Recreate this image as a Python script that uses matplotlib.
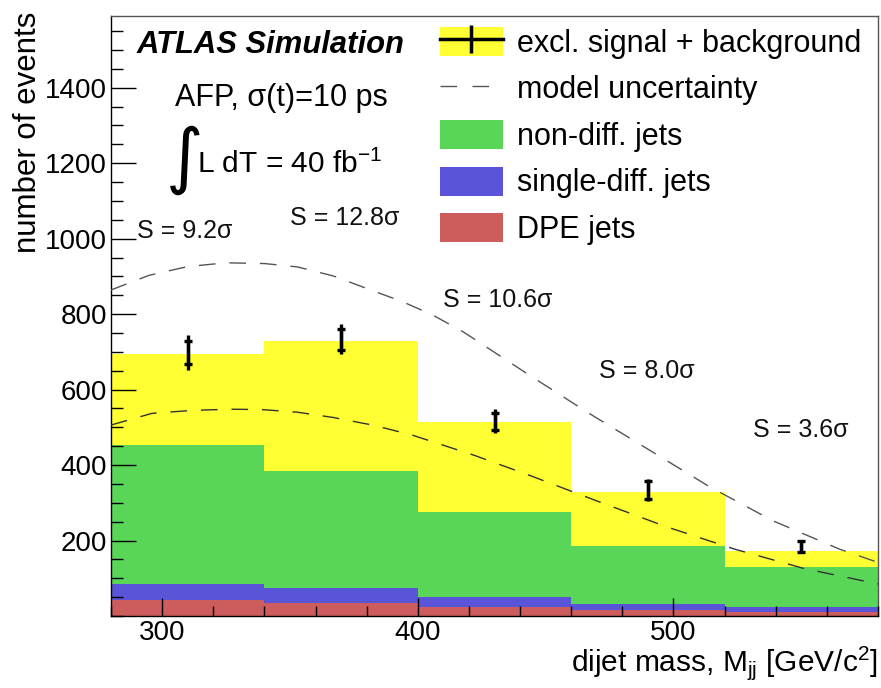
import numpy as np
import matplotlib
matplotlib.use("Agg")
import matplotlib.pyplot as plt
from matplotlib.patches import Patch
from matplotlib.lines import Line2D
from matplotlib.ticker import MultipleLocator, FixedLocator

plt.rcParams['font.family'] = ['Liberation Sans', 'DejaVu Sans']
plt.rcParams['mathtext.fontset'] = 'custom'
plt.rcParams['mathtext.rm'] = 'Liberation Sans'
plt.rcParams['mathtext.it'] = 'Liberation Sans:italic'
plt.rcParams['mathtext.bf'] = 'Liberation Sans:bold'

# ---------------- data ----------------
bin_edges = np.array([280, 340, 400, 460, 520, 580])
dpe_jets = np.array([42, 35, 23, 16, 10])
single_diff_jets = np.array([43, 38, 28, 16, 13])
non_diff_jets = np.array([369, 312, 225, 153, 106])
excl_signal = np.array([241, 343, 237, 143, 43])

data_values = np.array([699, 733, 516, 334, 185])
data_err_stat = np.array([30, 28, 23, 23, 15])
data_err_line = np.array([46, 40, 32, 28, 15])

upper_unc_x = [280, 295, 310, 325, 340, 353, 367, 380, 394, 406, 418, 443, 467, 491, 514, 539, 565, 580]
upper_unc_y = [864, 903, 926, 936, 934, 925, 901, 868, 833, 797, 752, 641, 537, 438, 343, 252, 177, 142]
lower_unc_x = [280, 296, 312, 327, 339, 353, 367, 383, 398, 422, 444, 470, 497, 524, 551, 580]
lower_unc_y = [506, 537, 545, 548, 547, 540, 526, 505, 479, 426, 372, 305, 237, 177, 126, 85]

significance_labels = ["S = 9.2σ", "S = 12.8σ", "S = 10.6σ", "S = 8.0σ", "S = 3.6σ"]
significance_x = [290.2, 350.1, 409.7, 470.7, 531.0]
significance_y = [1001, 1036, 820, 630, 475]

legend_labels = ["excl. signal + background", "model uncertainty",
                 "non-diff. jets", "single-diff. jets", "DPE jets"]

c_yellow = '#ffff33'
c_green = '#59d657'
c_blue = '#5a54d8'
c_red = '#cd5c5c'

W, H = 881, 688
fig = plt.figure(figsize=(W / 100, H / 100), dpi=100)
ax = fig.add_axes([111 / W, 1 - 616 / H, (878 - 111) / W, (616 - 16) / H])

# stacked histograms (drawn from total down)
layers = [dpe_jets, single_diff_jets, non_diff_jets, excl_signal]
colors = [c_red, c_blue, c_green, c_yellow]
cum = np.cumsum(np.vstack(layers), axis=0)
for i in range(len(layers) - 1, -1, -1):
    ax.stairs(cum[i], bin_edges, fill=True, color=colors[i], lw=0, zorder=1)

# model uncertainty curves
ax.plot(upper_unc_x, upper_unc_y, color='#555555', lw=1.0, dashes=(12, 10), zorder=3)
ax.plot(lower_unc_x, lower_unc_y, color='#333333', lw=1.0, dashes=(12, 10), zorder=3)

# data points with error bars
centers = 0.5 * (bin_edges[:-1] + bin_edges[1:])
ax.errorbar(centers, data_values, yerr=data_err_line, fmt='none', ecolor='black',
            elinewidth=2.4, capsize=0, zorder=4)
ax.errorbar(centers, data_values, yerr=data_err_stat, fmt='none', ecolor='black',
            elinewidth=2.4, capsize=3, capthick=2.4, zorder=4)

ax.set_xlim(280, 580)
ax.set_ylim(0, 1590)

ax.xaxis.set_major_locator(FixedLocator([300, 400, 500]))
ax.xaxis.set_minor_locator(MultipleLocator(20))
ax.yaxis.set_major_locator(FixedLocator([200, 400, 600, 800, 1000, 1200, 1400]))
ax.yaxis.set_minor_locator(MultipleLocator(50))
ax.tick_params(axis='both', which='both', direction='in', top=False, right=False,
               labelsize=20, width=1.0, color='black')
ax.tick_params(axis='y', which='major', length=18, pad=3)
ax.tick_params(axis='y', which='minor', length=8.6)
ax.tick_params(axis='x', which='major', length=13, pad=3)
ax.tick_params(axis='x', which='minor', length=7.2)
for s in ['left', 'bottom']:
    ax.spines[s].set_color('black')
    ax.spines[s].set_linewidth(1.0)
for s in ['top', 'right']:
    ax.spines[s].set_color('#555555')
    ax.spines[s].set_linewidth(1.0)
ax.set_axisbelow(False)

# significance labels
for lab, x, y in zip(significance_labels, significance_x, significance_y):
    ax.text(x, y, lab, fontsize=18, ha='left', va='baseline', color='#111111', zorder=5)

def fx(px):
    return px / W

def fy(py):
    return 1 - py / H

fig.text(fx(137), fy(53), "ATLAS Simulation", fontsize=22.3, fontweight='bold',
         fontstyle='italic', ha='left', va='baseline')
fig.text(fx(175), fy(106), "AFP, σ(t)=10 ps", fontsize=22, ha='left', va='baseline')
fig.text(fx(185), fy(160), "∫", fontsize=52, family='DejaVu Sans', ha='center', va='center')
fig.text(fx(197), fy(173), r"L dT = 40 fb$^{\mathregular{-1}}$", fontsize=21.5,
         ha='left', va='baseline')

# axis labels
fig.text(fx(878), fy(671), r"dijet mass, M$_{\mathregular{jj}}$ [GeV/c$^{\mathregular{2}}$]",
         fontsize=21.5, ha='right', va='baseline')
fig.text(fx(13), fy(12), "number of events", fontsize=22.5, rotation=90,
         ha='left', va='top')

# legend
handles = [
    (Patch(facecolor=c_yellow, edgecolor='none'),
     Line2D([], [], color='black', lw=2.5, marker='|', markersize=20, mew=2.5)),
    Line2D([], [], color='#555555', lw=1.0, dashes=(12, 11)),
    Patch(facecolor=c_green, edgecolor='none'),
    Patch(facecolor=c_blue, edgecolor='none'),
    Patch(facecolor=c_red, edgecolor='none'),
]
leg = ax.legend(handles, legend_labels, loc='upper left',
                bbox_to_anchor=(fx(440), fy(27)), bbox_transform=fig.transFigure,
                frameon=False, fontsize=22, handlelength=2.06, handleheight=1.08,
                handletextpad=0.46, labelspacing=0.48, borderpad=0, borderaxespad=0,
                numpoints=1)

fig.savefig("out.png", dpi=100)
